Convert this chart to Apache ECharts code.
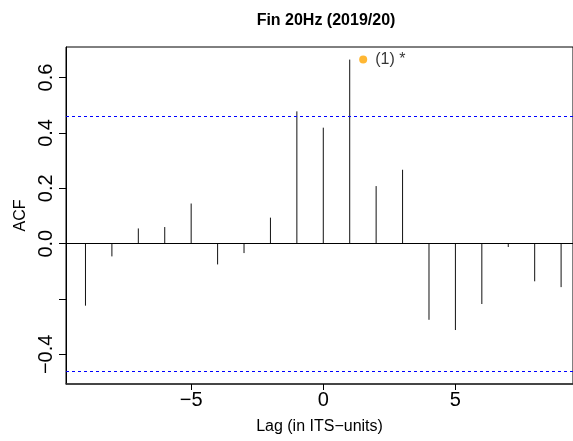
<!DOCTYPE html>
<html><head><meta charset="utf-8">
<script src="https://cdn.jsdelivr.net/npm/echarts@6/dist/echarts.min.js"></script>
<style>html,body{margin:0;padding:0;background:#fff}#c{width:573px;height:441px}</style>
</head><body><div id="c"></div>
<script>
const lags = [-9,-8,-7,-6,-5,-4,-3,-2,-1,0,1,2,3,4,5,6,7,8,9];
const acf = [-0.224,-0.046,0.055,0.060,0.145,-0.075,-0.034,0.094,0.478,0.419,0.665,0.208,0.267,-0.275,-0.312,-0.218,-0.012,-0.136,-0.157];
const ciBound = 0.4626;
const peakPoint = [1.51, 0.665];
const peakLabel = '(1) *';
const xTicks = [-5, 0, 5];
const yTicks = [-0.4, -0.2, 0, 0.2, 0.4, 0.6];
const yLabels = [-0.4, 0, 0.2, 0.4, 0.6];
const FONT = 'Liberation Sans, Arial, Helvetica, sans-serif';
const fmt = v => (v < 0 ? '\u2212' : '') + Math.abs(v).toFixed(1);

const chart = echarts.init(document.getElementById('c'), null, {renderer: 'canvas'});
chart.setOption({
  animation: false,
  backgroundColor: '#fff',
  title: {
    text: 'Fin 20Hz (2019/20)', left: 321, top: 8, textAlign: 'center',
    textStyle: {fontFamily: FONT, fontSize: 16, fontWeight: 'bold', color: '#000'}
  },
  grid: {left: 66, right: -2, top: 47, bottom: 57, show: true, borderColor: '#000', borderWidth: 1, backgroundColor: 'transparent'},
  xAxis: {
    type: 'value', min: -9.737, max: 9.45,
    name: 'Lag (in ITS\u2212units)', nameLocation: 'middle', nameGap: 35,
    nameTextStyle: {fontFamily: FONT, fontSize: 16, color: '#000'},
    axisLine: {show: true, onZero: false, lineStyle: {color: '#333', width: 1.5}},
    axisTick: {show: true, length: 6, customValues: xTicks, lineStyle: {color: '#000'}},
    axisLabel: {customValues: xTicks, formatter: v => (v < 0 ? '\u2212' : '') + Math.abs(v), fontFamily: FONT, fontSize: 20, color: '#000', margin: 6},
    splitLine: {show: false}
  },
  yAxis: {
    type: 'value', min: -0.507, max: 0.7105,
    name: 'ACF', nameLocation: 'middle', nameGap: 37, nameRotate: 90,
    nameTextStyle: {fontFamily: FONT, fontSize: 16, color: '#000'},
    axisLine: {show: true, onZero: false, lineStyle: {color: '#000', width: 1}},
    axisTick: {show: true, length: 7, customValues: yTicks, lineStyle: {color: '#000'}},
    axisLabel: {customValues: yLabels, rotate: 90, formatter: fmt, fontFamily: FONT, fontSize: 20, color: '#000', margin: 10, align: 'center'},
    splitLine: {show: false}
  },
  series: [
    {
      type: 'custom',
      data: lags.map((l, i) => [l, acf[i]]),
      renderItem: (params, api) => {
        const p0 = api.coord([api.value(0), 0]);
        const p1 = api.coord([api.value(0), api.value(1)]);
        return {type: 'line', shape: {x1: p0[0], y1: p0[1], x2: p1[0], y2: p1[1]}, style: {stroke: '#111', lineWidth: 1}};
      },
      markLine: {
        silent: true, symbol: 'none', label: {show: false},
        data: [
          {yAxis: 0, lineStyle: {color: '#000', type: 'solid', width: 1}},
          {yAxis: ciBound, lineStyle: {color: '#0000ff', type: [3, 3], width: 1}},
          {yAxis: -ciBound, lineStyle: {color: '#0000ff', type: [3, 3], width: 1}}
        ]
      },
      z: 3
    },
    {
      type: 'scatter', data: [peakPoint], symbolSize: 8,
      itemStyle: {color: '#FFA500'},
      label: {
        show: true, position: 'right', distance: 8,
        formatter: peakLabel,
        fontFamily: FONT, fontSize: 16, color: '#000'
      },
      z: 4
    }
  ]
});
</script></body></html>
